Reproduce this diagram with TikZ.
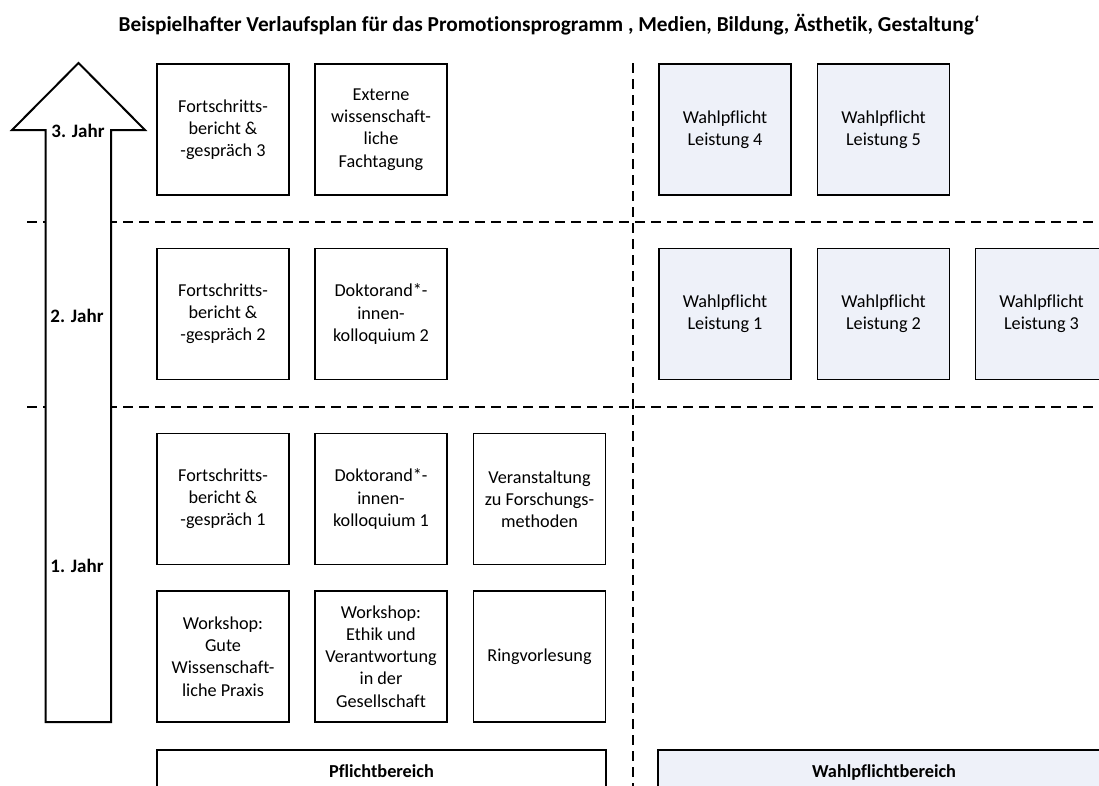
\documentclass[tikz,border=0pt]{standalone}
\usepackage{fontspec}
\setmainfont[Ligatures={NoCommon}]{Carlito}
\definecolor{wfill}{RGB}{238,241,249}
\begin{document}
\begin{tikzpicture}[x=1pt,y=-1pt,
  box/.style={draw=black,line width=1.6pt,minimum width=132pt,minimum height=131pt,align=center,font=\fontsize{18.2}{22.2}\selectfont,inner sep=0pt},
  wbox/.style={box,fill=wfill},
  sep/.style={line width=2.6pt,dash pattern=on 10pt off 6pt},
  yearlbl/.style={font=\bfseries\fontsize{19}{22}\selectfont},
  arealbl/.style={font=\bfseries\fontsize{18.3}{22}\selectfont,anchor=base},
  bottombox/.style={draw=black,line width=1.6pt}]
\clip (0,0) rectangle (1099,785);
\fill[white] (0,0) rectangle (1099,785);
\node[font=\bfseries\fontsize{21.3}{24}\selectfont] (title) at (549,25) {Beispielhafter Verlaufsplan für das Promotionsprogramm , Medien, Bildung, Ästhetik, Gestaltung‘};
% separators
\coordinate (h1a) at (27,222); \coordinate (h1b) at (1099,222);
\coordinate (h2a) at (27,407); \coordinate (h2b) at (1099,407);
\coordinate (va) at (633,63); \coordinate (vb) at (633,790);
\draw[sep] (h1a) -- (h1b);
\draw[sep] (h2a) -- (h2b);
\draw[sep] (va) -- (vb);
% arrow
\draw[line width=2pt,line join=miter,fill=white] (45.5,722) -- (45.5,130) -- (12,130) -- (78.5,63) -- (145,130) -- (111,130) -- (111,722) -- cycle;
\node[yearlbl] (y3) at (78,131) {3. Jahr};
\node[yearlbl] (y2) at (77,316) {2. Jahr};
\node[yearlbl] (y1) at (77,566) {1. Jahr};
% row 3
\node[box] (f3) at (223,129.5) {Fortschritts-\\bericht \&\\-gespräch 3};
\node[box] (ext) at (381,129.5) {Externe\\wissenschaft-\\liche\\Fachtagung};
\node[wbox] (w4) at (725,129.5) {Wahlpflicht\\Leistung 4};
\node[wbox] (w5) at (883.5,129.5) {Wahlpflicht\\Leistung 5};
% row 2
\node[box] (f2) at (223,314) {Fortschritts-\\bericht \&\\-gespräch 2};
\node[box] (dk2) at (381,314) {Doktorand*-\\innen-\\kolloquium 2};
\node[wbox] (w1) at (725,314) {Wahlpflicht\\Leistung 1};
\node[wbox] (w2) at (883.5,314) {Wahlpflicht\\Leistung 2};
\node[wbox] (w3) at (1041.5,314) {Wahlpflicht\\Leistung 3};
% row 1a
\node[box] (f1) at (223,499) {Fortschritts-\\bericht \&\\-gespräch 1};
\node[box] (dk1) at (381,499) {Doktorand*-\\innen-\\kolloquium 1};
\node[box] (va1) at (539.5,499) {Veranstaltung\\zu Forschungs-\\methoden};
% row 1b
\node[box] (ws1) at (223,656.5) {Workshop:\\Gute\\Wissenschaft-\\liche Praxis};
\node[box] (ws2) at (381,656.5) {Workshop:\\Ethik und\\Verantwortung\\in der\\Gesellschaft};
\node[box] (rv) at (539.5,656.5) {Ringvorlesung};
% bottom
\draw[bottombox] (157,800) -- (157,750) -- (606,750) -- (606,800);
\fill[wfill] (658,750) rectangle (1110,800);
\draw[bottombox] (658,800) -- (658,750) -- (1110,750);
\node[arealbl] (pb) at (381.5,777) {Pflichtbereich};
\node[arealbl] (wb) at (884,777) {Wahlpflichtbereich};
\end{tikzpicture}
\end{document}
